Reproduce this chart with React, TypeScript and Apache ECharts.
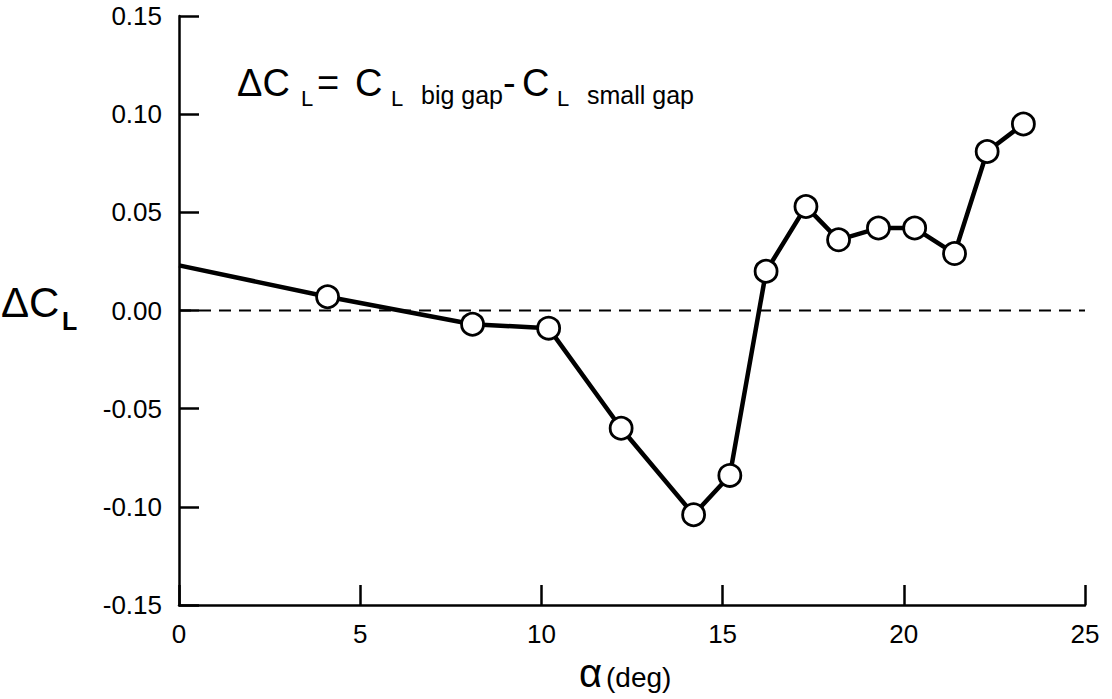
import React, { useEffect, useRef } from 'react';
import * as echarts from 'echarts';

// angle of attack (deg)
const alphaDeg = [0, 4.1, 8.1, 10.2, 12.2, 14.2, 15.2, 16.2, 17.3, 18.2, 19.3, 20.3, 21.4, 22.3, 23.3];
// ΔCL = CL(big gap) - CL(small gap)
const deltaCL = [0.023, 0.007, -0.007, -0.009, -0.06, -0.104, -0.084, 0.02, 0.053, 0.036, 0.042, 0.042, 0.029, 0.081, 0.095];
// x-extent of the dashed zero reference line
const zeroLineX = [0, 25];
const zeroLineY = [0, 0];
const xTickLabels = ['0', '5', '10', '15', '20', '25'];
const yTickLabels = ['-0.15', '-0.10', '-0.05', '0.00', '0.05', '0.10', '0.15'];

export default function App() {
  const ref = useRef<HTMLDivElement>(null);
  useEffect(() => {
    const chart = echarts.init(ref.current!, null, { renderer: 'svg' });
    const font = "'Liberation Sans', Arial, Helvetica, sans-serif";
    const t = (text: string, x: number, y: number, size: number, weight: string = 'normal') => ({
      type: 'text',
      x,
      y,
      silent: true,
      style: {
        text,
        fill: '#000',
        fontSize: size,
        fontFamily: font,
        fontWeight: weight,
        align: 'left',
        verticalAlign: 'middle',
      },
    });
    const mainData = alphaDeg.map((a, i) =>
      i === 0 ? { value: [a, deltaCL[i]], symbol: 'none' } : { value: [a, deltaCL[i]] }
    );
    const zeroData = zeroLineX.map((x, i) => [x, zeroLineY[i]]);
    chart.setOption({
      animation: false,
      backgroundColor: '#fff',
      grid: { left: 179, right: 27, top: 16, bottom: 94, containLabel: false },
      xAxis: {
        type: 'value',
        min: 0,
        max: 25,
        interval: 5,
        axisLine: { show: true, onZero: false, lineStyle: { color: '#000', width: 2.5 } },
        axisTick: { show: true, inside: true, length: 20, lineStyle: { color: '#000', width: 2.5 } },
        splitLine: { show: false },
        axisLabel: {
          fontSize: 26,
          color: '#000',
          fontFamily: font,
          margin: 16,
          formatter: (v: number) => xTickLabels[Math.round(v / 5)] ?? String(v),
        },
      },
      yAxis: {
        type: 'value',
        min: -0.15,
        max: 0.15,
        interval: 0.05,
        axisLine: { show: true, onZero: false, lineStyle: { color: '#000', width: 2.5 } },
        axisTick: { show: true, inside: true, length: 20, lineStyle: { color: '#000', width: 2.5 } },
        splitLine: { show: false },
        axisLabel: {
          fontSize: 26,
          color: '#000',
          fontFamily: font,
          margin: 17,
          formatter: (v: number) => yTickLabels[Math.round((v + 0.15) / 0.05)] ?? String(v),
        },
      },
      series: [
        {
          type: 'line',
          data: zeroData,
          symbol: 'none',
          z: 1,
          silent: true,
          lineStyle: { color: '#000', width: 2, type: [12, 8] },
        },
        {
          type: 'line',
          data: mainData,
          z: 3,
          symbol: 'circle',
          symbolSize: 22,
          silent: true,
          lineStyle: { color: '#000', width: 4.5 },
          itemStyle: { color: '#fff', borderColor: '#000', borderWidth: 2.8 },
        },
      ],
      graphic: [
        // annotation: ΔC_L = C_L big gap - C_L small gap
        t('ΔC', 237, 83, 38),
        t('L', 301, 98, 22),
        t('=', 317, 83, 38),
        t('C', 355, 83, 38),
        t('L', 391, 98, 22),
        t('big gap', 421, 95, 25),
        t('-', 503, 83, 38),
        t('C', 522, 83, 38),
        t('L', 557, 98, 22),
        t('small gap', 587, 95, 25),
        // y-axis name
        t('ΔC', 1, 302, 42),
        t('L', 62, 321, 25, 'bold'),
        // x-axis name
        t('α', 579, 673, 40),
        t('(deg)', 606, 677, 28),
      ],
    });
    return () => chart.dispose();
  }, []);
  return (
    <div
      ref={ref}
      style={{ position: 'fixed', left: 0, top: 0, width: 1112, height: 699, background: '#fff' }}
    />
  );
}
